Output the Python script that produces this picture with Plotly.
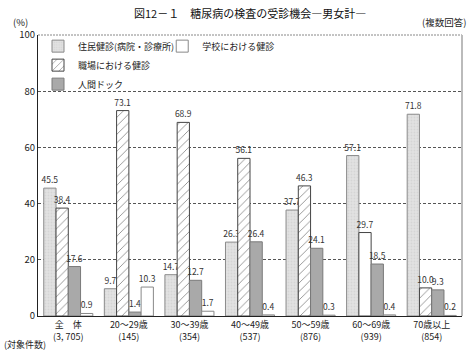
import plotly.graph_objects as go

categories = ["全　体<br>(3, 705)", "20～29歳<br>(145)", "30～39歳<br>(354)", "40～49歳<br>(537)",
              "50～59歳<br>(876)", "60～69歳<br>(939)", "70歳以上<br>(854)"]
jumin = [45.5, 9.7, 14.7, 26.3, 37.7, 57.1, 71.8]
shokuba = [38.4, 73.1, 68.9, 56.1, 46.3, 29.7, 10.0]
dock = [17.6, 1.4, 12.7, 26.4, 24.1, 18.5, 9.3]
gakko = [0.9, 10.3, 1.7, 0.4, 0.3, 0.4, 0.2]
yticks = [0, 20, 40, 60, 80, 100]

FONT = "Noto Sans CJK JP"
x = list(range(len(categories)))

fig = go.Figure()
common = dict(textposition="outside", cliponaxis=False, constraintext="none",
              textfont=dict(size=8.5, color="#333", family=FONT), texttemplate="%{y:.1f}")

fig.add_trace(go.Bar(x=x, y=jumin, name="住民健診(病院・診療所)", text=jumin,
                     marker=dict(color="#dadada", line=dict(color="#8a8a8a", width=1),
                                 pattern=dict(shape=".", fgcolor="#c8c8c8", bgcolor="#e2e2e2", size=3, solidity=0.3)),
                     legend="legend", **common))
fig.add_trace(go.Bar(x=x, y=shokuba, name="職場における健診", text=shokuba,
                     marker=dict(color="white", line=dict(color="#444", width=1),
                                 pattern=dict(shape=["/", "/", "/", "/", "/", "", "/"], fgcolor="#222",
                                              bgcolor="white", size=6, solidity=0.15)),
                     legend="legend", **common))
fig.add_trace(go.Bar(x=x, y=dock, name="人間ドック", text=dock,
                     marker=dict(color="#a9a9a9", line=dict(color="#7a7a7a", width=1)),
                     legend="legend", **common))
fig.add_trace(go.Bar(x=x, y=gakko, name="学校における健診", text=gakko,
                     marker=dict(color="white", line=dict(color="#888", width=1)),
                     legend="legend2", **common))

fig.update_layout(
    width=471, height=351,
    margin=dict(l=38, r=9, t=35, b=35),
    paper_bgcolor="white", plot_bgcolor="white",
    font=dict(family=FONT, size=10, color="#222"),
    barmode="group", bargap=0.19, bargroupgap=0,
    showlegend=True,
    legend=dict(x=0.0, y=1.012, xanchor="left", yanchor="top", orientation="v",
                font=dict(size=9, family=FONT, color="#222"), bgcolor="rgba(0,0,0,0)",
                traceorder="normal", tracegroupgap=0),
    legend2=dict(x=0.293, y=1.012, xanchor="left", yanchor="top", orientation="v",
                 font=dict(size=9, family=FONT, color="#222"), bgcolor="rgba(0,0,0,0)"),
    xaxis=dict(tickmode="array", tickvals=x, ticktext=categories, range=[-0.5, 6.5],
               showline=True, linecolor="#222", linewidth=1, ticks="", showgrid=False,
               tickfont=dict(size=9, family=FONT, color="#222")),
    yaxis=dict(range=[0, 100], tickvals=yticks, showline=True, linecolor="#222", linewidth=1,
               ticks="", showgrid=True, gridcolor="#555", griddash="3px,2px", gridwidth=1,
               zeroline=False, tickfont=dict(size=9.5, family=FONT, color="#222")),
    shapes=[
        dict(type="line", xref="paper", yref="paper", x0=0, x1=1, y0=1, y1=1,
             line=dict(color="#888", width=1, dash="2px,1px")),
        dict(type="line", xref="paper", yref="paper", x0=1, x1=1, y0=0, y1=1,
             line=dict(color="#bbb", width=2)),
    ],
    annotations=[
        dict(text="図12－１　糖尿病の検査の受診機会―男女計―", xref="paper", yref="paper",
             x=0.5, y=1, xanchor="center", yanchor="bottom", yshift=12, showarrow=False,
             font=dict(size=11, family=FONT, color="#111")),
        dict(text="(%)", xref="paper", yref="paper", x=0, y=1, xanchor="right", yanchor="bottom",
             xshift=-8, yshift=4, showarrow=False, font=dict(size=9.5, family=FONT, color="#222")),
        dict(text="(複数回答)", xref="paper", yref="paper", x=1, y=1, xanchor="right", yanchor="bottom",
             xshift=6, yshift=4, showarrow=False, font=dict(size=9.5, family=FONT, color="#222")),
        dict(text="(対象件数)", xref="paper", yref="paper", x=0, y=0, xanchor="left", yanchor="top",
             xshift=-36, yshift=-20, showarrow=False, font=dict(size=9, family=FONT, color="#222")),
    ],
)

fig.write_html("out.html")
